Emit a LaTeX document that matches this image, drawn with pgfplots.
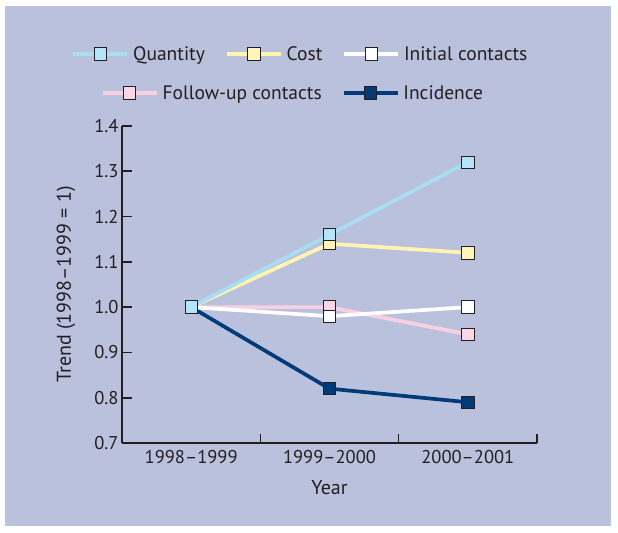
\documentclass[border=0pt]{standalone}
\usepackage{fontspec}
\setmainfont{PT Sans}
\usepackage{pgfplots}
\pgfplotsset{compat=1.18}

\definecolor{panel}{HTML}{B9C1DC}
\definecolor{qline}{HTML}{A9DDF4}
\definecolor{qfill}{HTML}{B5E3F7}
\definecolor{cline}{HTML}{FFF5B0}
\definecolor{cfill}{HTML}{FFF5BA}
\definecolor{fline}{HTML}{F9D0E2}
\definecolor{ffill}{HTML}{FAD7E6}
\definecolor{navy}{HTML}{003A78}
\definecolor{ink}{HTML}{231F20}

\pgfplotsset{
  ser/.style={line width=3.7bp, mark=square*, mark size=6.2bp,
    mark options={draw=ink, line width=0.9bp, solid, fill=#1}},
  quant/.style={ser=qfill, color=qline},
  cost/.style={ser=cfill, color=cline},
  init/.style={ser=white, color=white},
  follow/.style={ser=ffill, color=fline},
  incid/.style={ser=navy, color=navy},
  legstyle/.style={
    legend style={draw=none, fill=none, anchor=center,
      font=\fontsize{19.5bp}{23bp}\selectfont, text=ink,
      /tikz/every odd column/.append style={column sep=2bp},
      /tikz/every even column/.append style={column sep=18bp}},
    legend image code/.code={
      \draw[mark repeat=2, mark phase=2, ##1]
        plot coordinates {(0bp,0bp) (27bp,0bp) (54bp,0bp)};},
  },
  base/.style={
    scale only axis, width=415bp, height=317bp,
    xmin=0, xmax=3, ymin=0.7, ymax=1.4, clip=false,
  },
}

\begin{document}
\begin{tikzpicture}[x=1bp, y=1bp, font=\fontsize{18bp}{21bp}\selectfont]
\fill[white] (-122,-90) rectangle (496,443);
\fill[panel] (-117,-83) rectangle (489,437);

\begin{axis}[base, legstyle,
  axis x line*=bottom, axis y line*=left,
  axis line style={-, line width=1.6bp, ink},
  tick align=inside,
  xtick={0.5,1.5,2.5},
  xticklabels={1998–1999,1999–2000,2000–2001},
  minor xtick={1,2,3},
  x tick style={draw=none},
  minor x tick style={draw=ink, line width=1.6bp},
  minor tick length=9bp,
  ytick={0.7,0.8,0.9,1.0,1.1,1.2,1.3,1.4},
  y tick style={ink, line width=1.6bp},
  major tick length=10bp,
  /pgf/number format/assume math mode=true,
  yticklabel style={/pgf/number format/.cd, fixed, fixed zerofill, precision=1},
  xticklabel style={yshift=-4bp},
  tick label style={text=ink, font=\fontsize{18.5bp}{21bp}\selectfont},
  label style={text=ink, font=\fontsize{20bp}{24bp}\selectfont},
  xlabel={Year}, ylabel={Trend (1998–1999 = 1)},
  xlabel style={at={(axis description cs:0.5,-0.142)}, anchor=center},
  ylabel style={at={(axis description cs:-0.135,0.5)}, anchor=center},
  legend columns=3,
  legend style={at={(0.43,1.227)}},
]
\addplot[incid, forget plot] coordinates {(0.5,1.00) (1.5,0.82) (2.5,0.79)};
\addplot[follow, forget plot] coordinates {(0.5,1.00) (1.5,1.00) (2.5,0.94)};
\addplot[init, forget plot] coordinates {(0.5,1.00) (1.5,0.98) (2.5,1.00)};
\addplot[cost, forget plot] coordinates {(0.5,1.00) (1.5,1.14) (2.5,1.12)};
\addplot[quant, forget plot] coordinates {(0.5,1.00) (1.5,1.16) (2.5,1.32)};
\addlegendimage{quant}
\addlegendentry{Quantity}
\addlegendimage{cost}
\addlegendentry{Cost}
\addlegendimage{init}
\addlegendentry{Initial contacts}
\end{axis}

\begin{axis}[base, legstyle, hide axis,
  legend columns=2,
  legend style={at={(0.412,1.104)}},
]
\addlegendimage{follow}
\addlegendentry{Follow-up contacts}
\addlegendimage{incid}
\addlegendentry{Incidence}
\end{axis}
\end{tikzpicture}
\end{document}
